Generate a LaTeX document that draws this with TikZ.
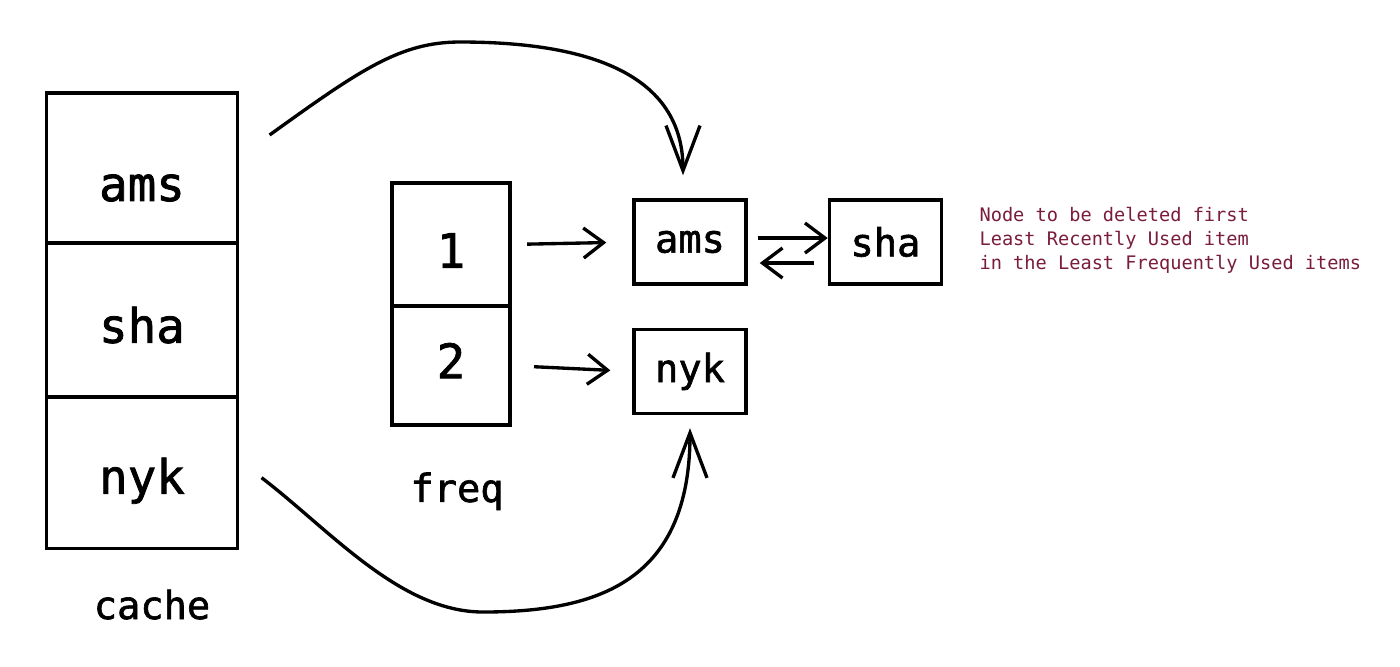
\documentclass[tikz,border=0pt]{standalone}
\usepackage{fontspec}
\setmonofont{DejaVu Sans Mono}
\newfontfamily\sketchfont{DejaVu Sans Mono}[FakeBold=1.6]
\usetikzlibrary{positioning,arrows.meta}
\definecolor{notered}{RGB}{122,28,60}
\tikzset{
    cell/.style={
        draw, rectangle, line width=0.95pt,
        outer sep=0pt, inner sep=0pt, text=black
    },
    cellfont/.style={font=\sketchfont\fontsize{13.5}{16}\selectfont, inner sep=0pt}
}

\begin{document}
\begin{tikzpicture}[
        x=0.01cm, y=-0.01cm,
        item/.style={
            draw, rectangle, line width=0.95pt,
            minimum width=1.12cm, minimum height=0.84cm,
            inner sep=0pt, text=black,
            font=\sketchfont\fontsize{11}{13}\selectfont
        },
        label text/.style={font=\sketchfont\fontsize{11}{13}\selectfont},
        link/.style={-{Straight Barb[length=0.2cm,width=0.3cm]}},
        longlink/.style={-{Straight Barb[length=0.45cm,width=0.34cm]}},
        line width=0.95pt
      ]
    \useasboundingbox (0,0) rectangle (1400,666);

    % the cache column
    \node[cell,minimum width=1.91cm,minimum height=1.50cm,
          label={[cellfont,yshift=-0.2cm]center:ams}] (cams) at (142,168) {};
    \node[cell,minimum width=1.91cm,minimum height=1.54cm,below=0pt of cams,
          label={[cellfont,yshift=-0.05cm]center:sha}] (csha) {};
    \node[cell,minimum width=1.91cm,minimum height=1.51cm,below=0pt of csha,
          label={[cellfont,yshift=-0.08cm]center:nyk}] (cnyk) {};
    \node[label text,below=0.28cm of cnyk,xshift=0.1cm] (cachelbl) {cache};

    % the freq column
    \node[cell,minimum width=1.18cm,minimum height=1.23cm,
          label={[cellfont,yshift=-0.06cm]center:1}] (f1) at (451,244.5) {};
    \node[cell,minimum width=1.18cm,minimum height=1.19cm,below=0pt of f1,
          label={[cellfont,yshift=0.05cm]center:2}] (f2) {};
    \node[label text,below=0.34cm of f2,xshift=0.06cm] (freqlbl) {freq};

    % the lists
    \node[item] (lams) at (690,242) {ams};
    \node[item,right=0.8cm of lams] (lsha) {sha};
    \node[item,below=0.42cm of lams] (lnyk) {nyk};
    \node[right=0.23cm of lsha,yshift=0.02cm,align=left,text=notered,
          font=\ttfamily\fontsize{5.3}{6.8}\selectfont] (note)
          {Node to be deleted first\\Least Recently Used item\\in the Least Frequently Used items};

    \draw[link,shorten <=0.17cm,shorten >=0.26cm] (f1.east) -- (lams.west);
    \draw[link,shorten <=0.24cm,shorten >=0.22cm] (f2.east) -- (lnyk.west);
    \draw[link,shorten <=0.1cm] ([yshift=0.04cm]lams.east) -- ([yshift=0.04cm]lsha.west);
    \draw[link,shorten <=0.14cm,shorten >=0.12cm] ([yshift=-0.21cm]lsha.west) -- ([yshift=-0.21cm]lams.east);

    \draw[longlink] ([shift={(0.32cm,0.33cm)}]cams.east)
        .. controls (360,70) and (400,42) .. (460,42)
        .. controls (600,42) and (683,80) .. ([xshift=-0.07cm,yshift=0.23cm]lams.north);
    \draw[longlink] ([shift={(0.24cm,-0.05cm)}]cnyk.east)
        .. controls (330,530) and (400,612) .. (483,612)
        .. controls (600,612) and (690,580) .. ([yshift=-0.13cm]lnyk.south);

\end{tikzpicture}
\end{document}
